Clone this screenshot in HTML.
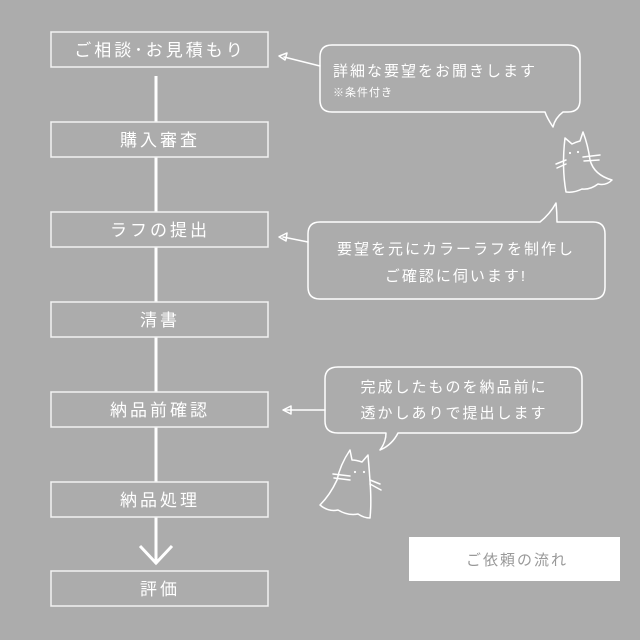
<!DOCTYPE html>
<html><head><meta charset="utf-8"><style>
html,body{margin:0;padding:0;background:#acacac;}
svg{display:block}
text{font-family:"Liberation Sans","Noto Sans CJK JP",sans-serif;fill:#fff;}
</style></head><body>
<svg width="640" height="640" viewBox="0 0 640 640" xmlns="http://www.w3.org/2000/svg">
<rect width="640" height="640" fill="#acacac"/>
<g stroke="#fff" fill="none">
<line x1="156" y1="76" x2="156" y2="564" stroke-width="3"/>
<polyline points="140,546 156,563 172,546" stroke-width="3"/>
</g>
<g stroke="#f2f2f2" stroke-width="1.5" fill="#acacac">
<rect x="51" y="32" width="217" height="35"/>
<rect x="51" y="122" width="217" height="35"/>
<rect x="51" y="212" width="217" height="35"/>
<rect x="51" y="302" width="217" height="35"/>
<rect x="51" y="392" width="217" height="35"/>
<rect x="51" y="482" width="217" height="35"/>
<rect x="51" y="571" width="217" height="35"/>
</g>
<g font-size="17" text-anchor="middle" letter-spacing="3">
<text x="160" y="56">ご相談･お見積もり</text>
<text x="160" y="146">購入審査</text>
<text x="160" y="236">ラフの提出</text>
<text x="160" y="326">清書</text>
<text x="160" y="416">納品前確認</text>
<text x="160" y="506">納品処理</text>
<text x="160" y="595">評価</text>
</g>
<g stroke="#fff" stroke-width="1.5" fill="none" stroke-linejoin="round" stroke-linecap="round">
<!-- bubble 1 -->
<path d="M332,45 H568 Q580,45 580,57 V100 Q580,112 568,112 H563 Q555,118 553,127 Q547,118 545,112 H332 Q320,112 320,100 V57 Q320,45 332,45 Z"/>
<line x1="320" y1="66" x2="284" y2="57"/>
<path d="M279,56 L287,53 L285,60 Z"/>
<!-- bubble 2 -->
<path d="M320,222 H540 Q550,214 556,203 Q557,213 557,222 H593 Q605,222 605,234 V287 Q605,299 593,299 H320 Q308,299 308,287 V234 Q308,222 320,222 Z"/>
<line x1="308" y1="242" x2="283" y2="237"/>
<path d="M279,237 L287,233 L286,241 Z"/>
<!-- bubble 3 -->
<path d="M338,367 H570 Q582,367 582,379 V421 Q582,433 570,433 H398 Q392,445 380,450 Q386,442 386,433 H338 Q325,433 325,421 V379 Q325,367 338,367 Z"/>
<line x1="325" y1="410" x2="284" y2="410"/>
<path d="M283,410 L291,406 L291,414 Z"/>
<!-- ghost 1 -->
<path d="M566,192 C563,175 563,155 565,138 L572,144 Q576,142 580,141 L583,132 Q588,145 590,160 Q594,175 612,180 Q606,186 598,184 Q590,190 582,189 Q574,193 566,192 Z"/>
<line x1="556" y1="164" x2="566" y2="160"/><line x1="557" y1="168" x2="566" y2="164"/>
<line x1="583" y1="157" x2="600" y2="155"/><line x1="584" y1="161" x2="599" y2="160"/>
<!-- ghost 2 -->
<path d="M370,518 C372,500 370,480 368,455 L362,462 Q356,460 352,460 L350,450 Q340,465 337,480 Q330,495 320,505 Q328,512 338,510 Q348,516 358,514 Q364,518 370,518 Z"/>
<line x1="333" y1="474" x2="350" y2="476"/><line x1="334" y1="478" x2="350" y2="480"/>
<line x1="370" y1="480" x2="380" y2="484"/><line x1="370" y1="484" x2="381" y2="490"/>
</g>
<g fill="#fff">
<circle cx="570" cy="153" r="1.1"/><circle cx="578" cy="152" r="1.1"/>
<circle cx="355" cy="472" r="1.1"/><circle cx="364" cy="472" r="1.1"/>
</g>
<g font-size="15" letter-spacing="2">
<text x="333" y="76">詳細な要望をお聞きします</text>
<text x="333" y="96" font-size="11" letter-spacing="1">※条件付き</text>
<text x="456" y="254" text-anchor="middle">要望を元にカラーラフを制作し</text>
<text x="456" y="281" text-anchor="middle">ご確認に伺います!</text>
<text x="454" y="392" text-anchor="middle">完成したものを納品前に</text>
<text x="454" y="418" text-anchor="middle">透かしありで提出します</text>
</g>
<rect x="409" y="537" width="211" height="44" fill="#fff"/>
<text x="517" y="565" font-size="15" text-anchor="middle" letter-spacing="2" style="fill:#999">ご依頼の流れ</text>
</svg>
</body></html>
